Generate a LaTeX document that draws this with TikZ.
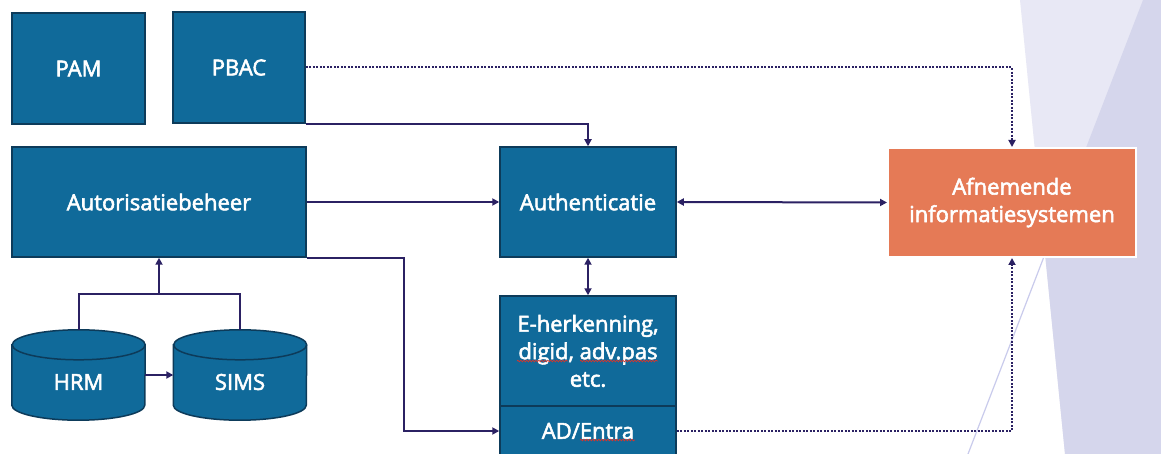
\documentclass[tikz,border=0pt]{standalone}
\usepackage{fontspec}
\setmainfont{Open Sans}
\newfontfamily\semib{Open Sans}[FakeBold=2.5]
\usetikzlibrary{arrows.meta,decorations.pathmorphing,calc}
\definecolor{boxblue}{HTML}{106A9A}
\definecolor{boxedge}{HTML}{0D3B5A}
\definecolor{orangebox}{HTML}{E57A56}
\definecolor{arrowcol}{HTML}{2B2163}
\definecolor{bglight}{HTML}{E8E8F5}
\definecolor{bgdark}{HTML}{D5D6EC}
\definecolor{bgline}{HTML}{C9CBEC}
\definecolor{squig}{HTML}{D9342B}
\begin{document}
\begin{tikzpicture}[x=1pt,y=-1pt,
  box/.style={rectangle, fill=boxblue, draw=boxedge, line width=1.5pt, inner sep=0pt,
    text=white, font=\semib\fontsize{22}{27.5}\selectfont, align=center},
  orange/.style={box, fill=orangebox, draw=white, line width=2pt},
  dbbox/.style={rectangle, inner sep=0pt, minimum width=133pt, minimum height=90pt},
  lbl/.style={text=white, font=\semib\fontsize{22}{27.5}\selectfont, inner sep=0pt},
  conn/.style={draw=arrowcol, line width=2pt},
  arr/.style={conn, -{Triangle[length=7pt,width=7pt]}},
  biarr/.style={conn, {Triangle[length=7pt,width=7pt]}-{Triangle[length=7pt,width=7pt]}},
  dots/.style={arr, dash pattern=on 2pt off 1.5pt},
  wavy/.style={draw=squig, line width=0.7pt, decorate, decoration={snake, amplitude=0.8pt, segment length=3pt}}
]
\useasboundingbox (0,0) rectangle (1161,454);
\clip (0,0) rectangle (1161,454);
\fill[white] (0,0) rectangle (1161,454);

% background decoration
\fill[bglight] (1020,0) -- (1161,0) -- (1161,454) -- (1065,454) -- cycle;
\fill[bgdark] (1143,0) -- (1161,0) -- (1161,454) -- (1065,454) -- (1045,254) -- cycle;
\draw[bgline, line width=1.2pt] (968,454) -- (1045,254);

% boxes
\node[box, minimum width=133pt, minimum height=111pt] (pam) at (78.5,68.5) {PAM};
\node[box, minimum width=132pt, minimum height=111pt] (pbac) at (239,67.5) {PBAC};
\node[box, minimum width=294pt, minimum height=110pt] (autor) at (159,202) {Autorisatiebeheer};
\node[box, minimum width=176pt, minimum height=110pt] (auth) at (588,202) {Authenticatie};
\node[box, minimum width=176pt, minimum height=110pt] (eher) at (588,351) {E-herkenning,\\digid, adv.pas\\etc.};
\node[box, minimum width=176pt, minimum height=50pt] (entra) at (588,431) {AD/Entra};
\node[orange, minimum width=248pt, minimum height=109pt] (afn) at (1012,202.5) {Afnemende\\informatiesystemen};

% cylinders
\node[dbbox] (hrm) at (78.5,375) {};
\node[dbbox] (sims) at (240,375) {};
\foreach \n in {hrm,sims}{
  \path[fill=boxblue, draw=boxedge, line width=1.5pt]
    ($(\n.north west)+(0,15)$) -- ($(\n.south west)+(0,-15)$)
    arc[start angle=180,end angle=360,x radius=66.5pt,y radius=15pt]
    -- ($(\n.north east)+(0,15)$)
    arc[start angle=0,end angle=180,x radius=66.5pt,y radius=15pt] -- cycle;
  \draw[boxedge, line width=1.5pt] ($(\n.north east)+(0,15)$)
    arc[start angle=0,end angle=-180,x radius=66.5pt,y radius=15pt];
}
\node[lbl] at ($(hrm.center)+(0,7)$) {HRM};
\node[lbl] at ($(sims.center)+(0,7)$) {SIMS};

% spell-check marks
\draw[wavy] (517,361) -- (568,361);
\draw[wavy] (580,361) -- (658,361);
\draw[wavy] (580,440) -- (635,440);

% connectors
\coordinate (jn) at (159,294);
\draw[conn] (hrm.north) |- (jn) -| (sims.north);
\draw[arr] (jn) -- (autor.south);
\draw[arr] (hrm.east) -- (sims.west);
\draw[arr] (pbac.south east) -| (auth.north);
\draw[arr] (autor.east) -- (auth.west);
\draw[arr] (autor.south east) -- ++(97,0) |- (entra.west);
\draw[biarr] (auth.east) -- (afn.west);
\draw[biarr] (auth.south) -- (eher.north);
\draw[dots] (pbac.east) -| (afn.north);
\draw[dots] (entra.east) -| (afn.south);
\end{tikzpicture}
\end{document}
